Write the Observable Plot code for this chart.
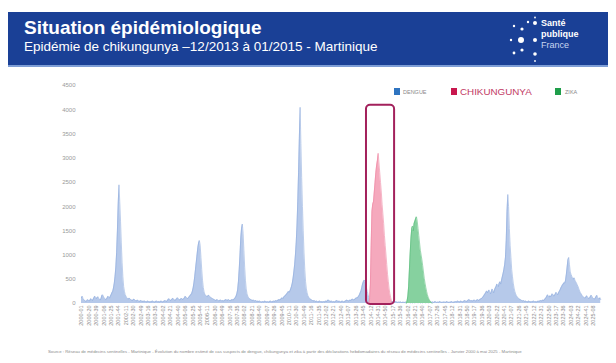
<!DOCTYPE html>
<html><head><meta charset="utf-8">
<script src="https://cdn.jsdelivr.net/npm/d3@7"></script>
<script src="https://cdn.jsdelivr.net/npm/@observablehq/plot@0.6"></script>
<style>
html,body{margin:0;padding:0;background:#fff}
body{width:616px;height:363px;overflow:hidden;position:relative;font-family:"Liberation Sans",Arial,sans-serif}
#banner{position:absolute;left:8px;top:12px;width:600px;height:53px;background:#1a4096;border-bottom:2px solid #7e9ed6;z-index:2}
#title{position:absolute;left:16px;top:5px;font-weight:bold;font-size:19px;color:#fff;white-space:nowrap}
#subtitle{position:absolute;left:16px;top:27px;font-size:13.5px;color:#fff;white-space:nowrap}
#logo{position:absolute;left:500px;top:4px}
.lt{position:absolute;left:541px;color:#fff;font-weight:bold;font-size:9px;white-space:nowrap;z-index:3}
#chart{position:absolute;left:0;top:0;z-index:1}
.leg{position:absolute;z-index:3;white-space:nowrap}
.sq{position:absolute;width:6px;height:7px}
#caption{position:absolute;left:48px;top:349px;font-size:4.3px;color:#8a8a8a;white-space:nowrap;z-index:3}
</style></head>
<body>
<div id="banner">
  <div id="title">Situation épidémiologique</div>
  <div id="subtitle">Epidémie de chikungunya –12/2013 à 01/2015 - Martinique</div>
  <svg id="logo" width="34" height="48" viewBox="0 0 34 48">
    <g fill="#fff">
      <circle cx="6" cy="10" r="1.2"/><circle cx="14" cy="13" r="1.6"/><circle cx="20" cy="6" r="1.2"/>
      <circle cx="27" cy="7" r="2"/><circle cx="27" cy="1.5" r="0.9"/>
      <circle cx="3" cy="24" r="1.2"/><circle cx="13" cy="24" r="3"/><circle cx="27" cy="24" r="2"/>
      <circle cx="6" cy="37" r="1.4"/><circle cx="14" cy="34" r="1.6"/><circle cx="27" cy="38" r="1.8"/>
      <circle cx="27" cy="45" r="0.9"/>
    </g>
  </svg>
</div>
<div class="lt" style="top:18px">Santé</div>
<div class="lt" style="top:29px">publique</div>
<div class="lt" style="top:40px;font-weight:normal;color:#c9d6f0">France</div>

<div class="sq leg" style="left:394px;top:88px;background:#2f74c0"></div>
<div class="leg" style="left:403px;top:88.5px;font-size:5.5px;color:#8a8a8a">DENGUE</div>
<div class="sq leg" style="left:451px;top:88px;background:#c8174e"></div>
<div class="leg" style="left:460px;top:85.5px;font-size:9.8px;color:#c23a64">CHIKUNGUNYA</div>
<div class="sq leg" style="left:555px;top:88px;background:#1f9e4a"></div>
<div class="leg" style="left:565px;top:88.5px;font-size:5.5px;color:#8a8a8a">ZIKA</div>

<div id="chart"></div>
<div id="caption">Source : Réseau de médecins sentinelles - Martinique - Évolution du nombre estimé de cas suspects de dengue, chikungunya et zika à partir des déclarations hebdomadaires du réseau de médecins sentinelles - Janvier 2000 à mai 2025 - Martinique</div>

<script>
// ---- Data (weekly index from 2000-01, values every 2 weeks) ----
const yTicks = [0, 500, 1000, 1500, 2000, 2500, 3000, 3500, 4000, 4500];

const weekLabels = ["2000-01","2000-20","2000-39","2001-06","2001-25","2001-44","2002-11","2002-30","2002-49","2003-16","2003-35","2004-02","2004-21","2004-40","2005-06","2005-25","2005-44","2006-11","2006-30","2006-49","2007-16","2007-35","2008-02","2008-21","2008-40","2009-07","2009-26","2009-45","2010-11","2010-30","2010-49","2011-16","2011-35","2012-02","2012-21","2012-40","2013-07","2013-26","2013-45","2014-12","2014-31","2014-50","2015-17","2015-36","2016-02","2016-21","2016-40","2017-07","2017-26","2017-45","2018-12","2018-31","2018-50","2019-17","2019-36","2020-03","2020-22","2020-41","2021-07","2021-26","2021-45","2022-12","2022-31","2022-50","2023-17","2023-36","2024-03","2024-22","2024-41","2025-08"];
const longYears = [2004, 2009, 2015, 2020];

// dengue: [start week index, values every 2 weeks]
const dengue2000 = [0, [120,150,100,80,60,50,40,60,80,60,50,70,100,80,60,90,120,150,130,100,120,140,110,90,70,100,160,180,150,120,100,80,90,120,150,130,110,150,180,220]];
const dengue2001 = [80, [250,320,420,560,750,1050,1500,2050,2450,2100,1700,1250,850,550,350,250,180]];
const dengue2002 = [114, [150,120,100,90,110,100,80,70,60,70,90,80,60,50,60,70,50,40,50,60,50,40,50,40,50,40,30,40,50,40,30,40,30,40,50,40,30,30,40,50,40,30,40,30,40,50,40,30,40,50,60,50,40,60,80,100,80,60,70,90,110,90,70,60,80,100,120,100,80,70,90,110,90,80,100,120,150,130,110,100,120,140,160,180,200,250,320,420]];
const dengue2005 = [290, [550,700,850,1000,1150,1250,1300,1200,950,700,480,330,240,190]];
const dengue2006 = [318, [170,150,140,160,170,150,130,120,110,100,90,80,70,60,70,80,60,50,60,70,60,50,60,50,60,70,80,70,60,80,70,60,60,70,80,70,80,100,120,150,200]];
const dengue2007 = [400, [280,450,700,1000,1350,1550,1640,1450,1100,750,480,300,200]];
const dengue2008 = [426, [150,120,100,90,80,70,60,70,60,50,60,50,40,50,40,50,40,30,30,40,30,40,50,40,30,40,30,30,40,50,40,30,40,50,40,50,60,50,60,70,80,70,90,100,120,100,130,150]];
const dengue2010 = [522, [160,180,200,220,250,230,260,300,350,420,520,650,800,1000,1250,1600,2100,2700,3400,4050,3300,2600,2000,1500,1050,700,450,300,220,160]];
const dengue2011 = [582, [130,110,90,80,70,60,50,60,50,40,50,40,30,40,50,40,30,40,30,40,30,40,50,40,60,70,60,50,40,50,40,30,40,30,40,50,60,50,40,50,40,30,40,50,40,30,40,50,60,70,60,50,60,70,60,80,90,80,70,90,100,120,110,130,150,180,220,260,330,400]];
const dengue2013 = [722, [450,480,470,400,320,250,180,120,90,70]];
const dengue2014 = [742, [50,40,40,30,30,30,20,20,30,20,20,20,30,20,20,20,30,20,20,30,30,20,30,40,30,30,40,30,40,30,30,40,30,30,20,30,20,30,30,20,20,30,20,20,30]];
const dengue2016 = [832, [20,20,30,20,20,10,20,20,10,20,20,10,20,20,20,10,20,20,10,20,20,10,20,20,20,10,20,20,10,20]];
const dengue2017 = [892, [20,30,20,30,30,20,30,40,30,20,30,20,30,40,30,20,30,20,30,30,20,30,40,30,20,30,20,30,40,30,20,30,30,40,30,40,50,40,30,40,50,40,30,40,50,60,50,40,50,60,80,70,60,50,60,50,60,70,60,50,60,80,70,60,80,90,100,110,130,150,180,200,230,260,220]];
const dengue2020 = [1042, [250,280,230,200,250,300,260,220,280,320,350,400,380,350,420,450,400,480,550,620,700,800,950,1300,1900,2250,2000,1550,1200,950,700,550,420,320,250,200,160,140,120,100]];
const dengue2021 = [1122, [90,80,70,60,50,60,50,40,50,40,30,40,50,40,30,40,30,40,50,40,30,40,30,40,50,40,50,60,50,60,70,60,80,100,120,150,180,150,130,160]];
const dengue2023 = [1202, [140,170,200,180,150,170,200,230,200,180,220,250,280,320,350,380,400,430,420,480,600,750,900,950,800,650,600,560,520,500,530,480,450,420,380,350,300,260,220,200,170,150,130,120,110,130,160,140,110,100,120,150,170,140,110,100,90,110,140,170,130,100,90,120,80]];

const chikungunya = [736, [0,100,400,1200,1900,2050,2100,2300,2500,2700,2850,2950,3100,2900,2700,2500,2300,2050,1850,1650,1400,1200,1000,800,600,450,300,200,120,60,0]];
const zika = [832, [0,50,150,350,700,1050,1350,1550,1600,1500,1650,1700,1750,1790,1700,1550,1400,1250,1100,1000,900,780,650,520,420,330,250,180,130,90,60,40,20,0]];

// highlighted epidemic period (weeks) and box height (cases)
const chikBox = [{x1: 730, x2: 802, y1: -21, y2: 4090}];

// ---- build tables ----
const step = 2;
function expand(seg) { return seg[1].map((v, i) => ({p: seg[0] + i * step, v})); }
const dengueData = [dengue2000, dengue2001, dengue2002, dengue2005, dengue2006, dengue2007, dengue2008, dengue2010, dengue2011, dengue2013, dengue2014, dengue2016, dengue2017, dengue2020, dengue2021, dengue2023].flatMap(expand);
const chikData = expand(chikungunya);
const zikaData = expand(zika);

function weekIndex(lbl) {
  const [y, w] = lbl.split("-").map(Number);
  let p = 0;
  for (let yy = 2000; yy < y; yy++) p += longYears.includes(yy) ? 53 : 52;
  return p + w - 1;
}
const tickWeeks = weekLabels.map(weekIndex);
const labelMap = new Map(weekLabels.map(l => [weekIndex(l), l]));

const chart = Plot.plot({
  width: 616, height: 363,
  marginTop: 85, marginBottom: 60, marginLeft: 81, marginRight: 15,
  style: {background: "transparent", fontFamily: "Liberation Sans, Arial, sans-serif", color: "#8c8c8c"},
  x: {domain: [0, 1332], axis: null},
  y: {domain: [0, 4500], axis: null},
  marks: [
    Plot.axisY({ticks: yTicks, tickFormat: d => String(d), tickSize: 0, tickPadding: 6, fontSize: 6, label: null, fill: "#9a9a9a"}),
    Plot.axisX({ticks: tickWeeks, tickFormat: d => labelMap.get(d), tickRotate: -90, tickSize: 0, tickPadding: 2, fontSize: 5.5, label: null, fill: "#8c8c8c"}),
    Plot.areaY(dengueData, {x: "p", y: "v", fill: "#b6c9ea"}),
    Plot.lineY(dengueData, {x: "p", y: "v", stroke: "#90acdd", strokeWidth: 0.6}),
    Plot.areaY(chikData, {x: "p", y: "v", fill: "#f5a9bd"}),
    Plot.lineY(chikData, {x: "p", y: "v", stroke: "#ef86a3", strokeWidth: 0.6}),
    Plot.areaY(zikaData, {x: "p", y: "v", fill: "#86d19f"}),
    Plot.lineY(zikaData, {x: "p", y: "v", stroke: "#5dbd7d", strokeWidth: 0.6}),
    Plot.rect(chikBox, {x1: "x1", x2: "x2", y1: "y1", y2: "y2", fill: "none", stroke: "#a3215c", strokeWidth: 2, rx: 4})
  ]
});
document.getElementById("chart").appendChild(chart);
</script>
</body></html>
